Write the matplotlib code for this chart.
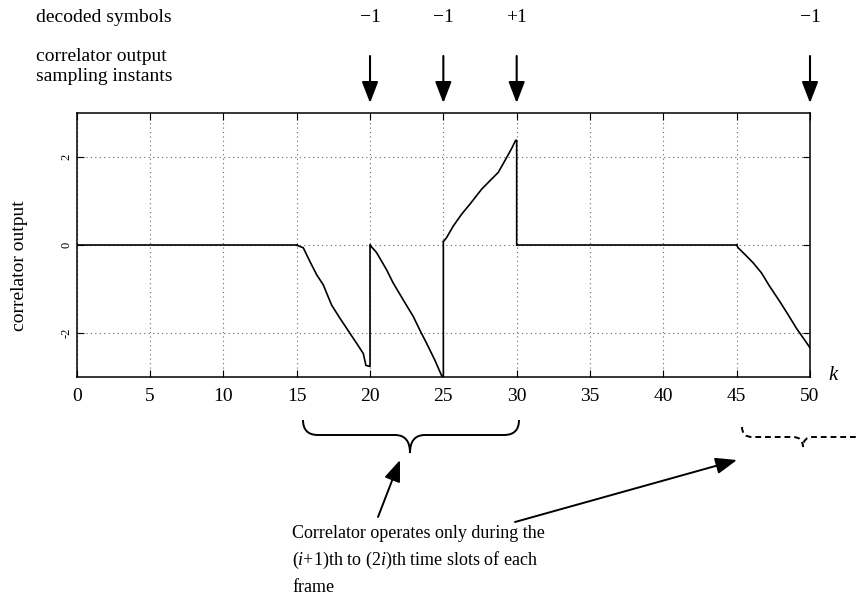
import matplotlib
matplotlib.use('Agg')
import matplotlib.pyplot as plt
from matplotlib.path import Path
from matplotlib.patches import PathPatch
from matplotlib import transforms

plt.rcParams['font.family'] = ['Liberation Serif', 'DejaVu Serif']
plt.rcParams['mathtext.fontset'] = 'custom'
plt.rcParams['mathtext.rm'] = 'Liberation Serif'
plt.rcParams['mathtext.it'] = 'Liberation Serif:italic'

# correlator output (one array pair per frame segment)
k_idle1 = [0, 15]
v_idle1 = [0, 0]
k_seg1 = [15, 15.45, 15.9, 16.36, 16.81, 17.38, 17.95, 18.63, 19.09, 19.54, 19.72, 19.95, 20, 20]
v_seg1 = [0, -0.06, -0.37, -0.67, -0.90, -1.36, -1.66, -2.00, -2.23, -2.46, -2.73, -2.75, -2.75, 0]
k_seg2 = [20, 20.45, 21.13, 21.58, 22.26, 22.95, 23.4, 23.86, 24.42, 24.88, 25, 25]
v_seg2 = [0, -0.17, -0.56, -0.86, -1.24, -1.62, -1.93, -2.23, -2.61, -2.96, -3.0, 0.08]
k_seg3 = [25, 25.22, 25.67, 26.24, 26.81, 27.61, 28.17, 28.74, 29.2, 29.65, 29.93, 30, 30]
v_seg3 = [0.08, 0.17, 0.43, 0.70, 0.93, 1.27, 1.46, 1.65, 1.92, 2.19, 2.38, 2.38, 0]
k_idle2 = [30, 45]
v_idle2 = [0, 0]
k_seg4 = [45, 45.1, 45.56, 46.12, 46.69, 47.26, 47.94, 48.51, 49.08, 49.65, 50]
v_seg4 = [0, -0.06, -0.21, -0.40, -0.63, -0.94, -1.28, -1.58, -1.89, -2.16, -2.33]

sample_k = [20, 25, 30, 50]
symbols = ['\u22121', '\u22121', '+1', '\u22121']

xticks = list(range(0, 51, 5))
yticks = [-2, 0, 2]
ytick_labels = ['-2', '0', '2']

W, H = 856, 600


def fp(x, y):
    # pixel position (from top-left) -> figure fraction
    return x / W, 1 - y / H


fig = plt.figure(figsize=(W / 100, H / 100), dpi=100)
ax = fig.add_axes([76.7 / W, 1 - 377.3 / H, (810 - 76.7) / W, (377.3 - 113) / H])

for kk, vv in [(k_idle1, v_idle1), (k_seg1, v_seg1), (k_seg2, v_seg2),
               (k_seg3, v_seg3), (k_idle2, v_idle2), (k_seg4, v_seg4)]:
    ax.plot(kk, vv, color='black', lw=1.2)

ax.set_xlim(0, 50)
ax.set_ylim(-3, 3)
ax.set_xticks(xticks)
ax.set_yticks(yticks)
ax.set_yticklabels(ytick_labels, rotation=90, va='center', fontsize=9)
ax.tick_params(direction='in', top=True, right=True, length=5, width=0.8)
ax.tick_params(axis='x', labelsize=14, pad=8)
ax.tick_params(axis='y', pad=3)
ax.grid(True, linestyle=(0, (1, 3)), color='0.4', lw=0.8)
for s in ax.spines.values():
    s.set_linewidth(1.1)

# labels around the axes
fig.text(*fp(20, 266), 'correlator output', rotation=90, ha='center', va='center', fontsize=14)
fig.text(*fp(833, 375), 'k', style='italic', ha='center', va='center', fontsize=15)
fig.text(*fp(36, 18), 'decoded symbols', va='center', fontsize=14)
fig.text(*fp(36, 66.5), 'correlator output\nsampling instants', va='center', fontsize=14, linespacing=1.2)

# symbols and sampling arrows above the plot
blend = transforms.blended_transform_factory(ax.transData, fig.transFigure)
for kx, sym in zip(sample_k, symbols):
    ax.text(kx, 1 - 18 / H, sym, transform=blend, ha='center', va='center', fontsize=14)
    ax.annotate('', xy=(kx, 1 - 103 / H), xycoords=blend,
                xytext=(kx, 1 - 56 / H), textcoords=blend,
                arrowprops=dict(arrowstyle='-|>,head_length=0.65,head_width=0.25',
                                mutation_scale=20, color='black', lw=1.5,
                                shrinkA=0, shrinkB=0),
                annotation_clip=False)


def brace(x0, x1, xt, ytop, ymid, ytip, r, **kw):
    pts = [fp(x0, ytop), fp(x0, ymid), fp(x0 + r, ymid), fp(xt - r, ymid),
           fp(xt, ymid), fp(xt, ytip), fp(xt, ymid), fp(xt + r, ymid),
           fp(x1 - r, ymid), fp(x1, ymid), fp(x1, ytop)]
    codes = [Path.MOVETO, Path.CURVE3, Path.CURVE3, Path.LINETO,
             Path.CURVE3, Path.CURVE3, Path.CURVE3, Path.CURVE3,
             Path.LINETO, Path.CURVE3, Path.CURVE3]
    fig.add_artist(PathPatch(Path(pts, codes), transform=fig.transFigure,
                             fill=False, color='black', **kw))


brace(303, 519, 410, 420, 435, 453, 15, lw=1.4)
brace(742, 864, 803, 427, 437, 447, 10, lw=1.4, linestyle=(0, (3, 2)))

# pointer arrows from the note
for tail, head in [((378, 517), (400, 460)), ((515, 522), (737, 460))]:
    fig.add_artist(matplotlib.patches.FancyArrowPatch(
        fp(*tail), fp(*head), transform=fig.transFigure,
        arrowstyle='-|>,head_length=0.65,head_width=0.25', mutation_scale=20,
        color='black', lw=1.4, shrinkA=0, shrinkB=0))

fig.text(*fp(292, 525), 'Correlator operates only during the\n'
         '($i$+1)th to (2$i$)th time slots of each\nframe',
         va='top', ha='left', fontsize=13, linespacing=1.55)

fig.savefig('out.png', dpi=100)
